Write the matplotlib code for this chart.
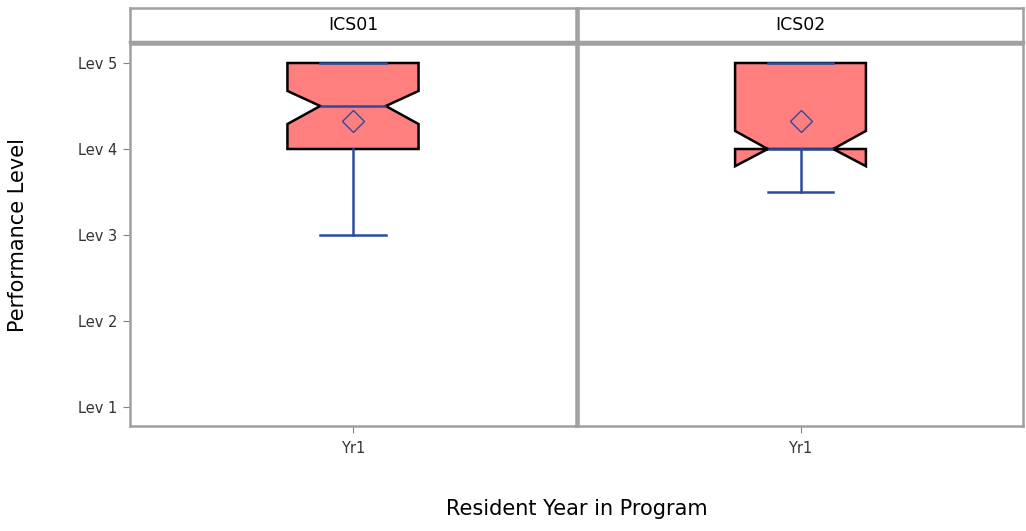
import numpy as np
import matplotlib.pyplot as plt

# Performance level summary per competency (Yr1 residents)
panels = ['ICS01', 'ICS02']
medians = [4.5, 4.0]
q1s = [4.0, 4.0]
q3s = [5.0, 5.0]
whisk_lo = [3.0, 3.5]
whisk_hi = [5.0, 5.0]
means = [4.33, 4.33]
notch_lo = [4.29, 3.80]
notch_hi = [4.675, 4.21]

level_ticks = [1, 2, 3, 4, 5]
level_labels = ['Lev 1', 'Lev 2', 'Lev 3', 'Lev 4', 'Lev 5']
year_labels = ['Yr1']

fill_col = '#FF7F7F'
blue = '#2B4C9E'
frame_col = '#A0A0A0'

plt.rcParams['font.family'] = ['DejaVu Sans']

fig = plt.figure(figsize=(10.26, 5.31), dpi=100)

W, H = 1026.0, 531.0
lefts = [130, 578]
rights = [576, 1023]
body_top, body_bot = 44, 426
head_top, head_bot = 8, 42

for i, name in enumerate(panels):
    l, r = lefts[i], rights[i]
    ax = fig.add_axes([l / W, 1 - body_bot / H, (r - l) / W, (body_bot - body_top) / H])
    hx = fig.add_axes([l / W, 1 - head_bot / H, (r - l) / W, (head_bot - head_top) / H])

    stats = [dict(med=medians[i], q1=q1s[i], q3=q3s[i],
                  whislo=whisk_lo[i], whishi=whisk_hi[i],
                  mean=means[i], cilo=notch_lo[i], cihi=notch_hi[i],
                  fliers=[], label=year_labels[0])]
    ax.bxp(stats, positions=[1], widths=0.294, shownotches=True,
           showmeans=True, patch_artist=True,
           boxprops=dict(facecolor=fill_col, edgecolor='black', linewidth=1.8),
           medianprops=dict(color=blue, linewidth=1.8, zorder=4),
           whiskerprops=dict(color=blue, linewidth=1.8),
           capprops=dict(color=blue, linewidth=1.8, zorder=4),
           meanprops=dict(marker='D', markerfacecolor='none',
                          markeredgecolor=blue, markersize=11,
                          markeredgewidth=1.0))

    ax.set_xlim(0.5, 1.5)
    ax.set_ylim(1 - 19 / 86, 5 + 19 / 86)
    ax.set_xticks([1])
    ax.set_xticklabels(year_labels, fontsize=10.5, color='#333333')
    ax.tick_params(axis='x', length=5, color='#808080', pad=6)
    if i == 0:
        ax.set_yticks(level_ticks)
        ax.set_yticklabels(level_labels, fontsize=10.5, color='#333333')
        ax.tick_params(axis='y', length=5, color='#808080', pad=4)
        ax.set_ylabel('Performance Level', fontsize=15, labelpad=36)
    else:
        ax.set_yticks([])
    for s in ax.spines.values():
        s.set_color(frame_col)
        s.set_linewidth(1.8)

    hx.set_xticks([])
    hx.set_yticks([])
    hx.text(0.5, 0.5, name, ha='center', va='center', fontsize=12.5,
            fontweight='medium', transform=hx.transAxes)
    for s in hx.spines.values():
        s.set_color(frame_col)
        s.set_linewidth(1.8)
    hx.spines['bottom'].set_linewidth(2.5)

fig.text((130 + 1023) / 2 / W, 1 - 509 / H, 'Resident Year in Program',
         ha='center', va='center', fontsize=15)

fig.savefig('out.png', dpi=100)
